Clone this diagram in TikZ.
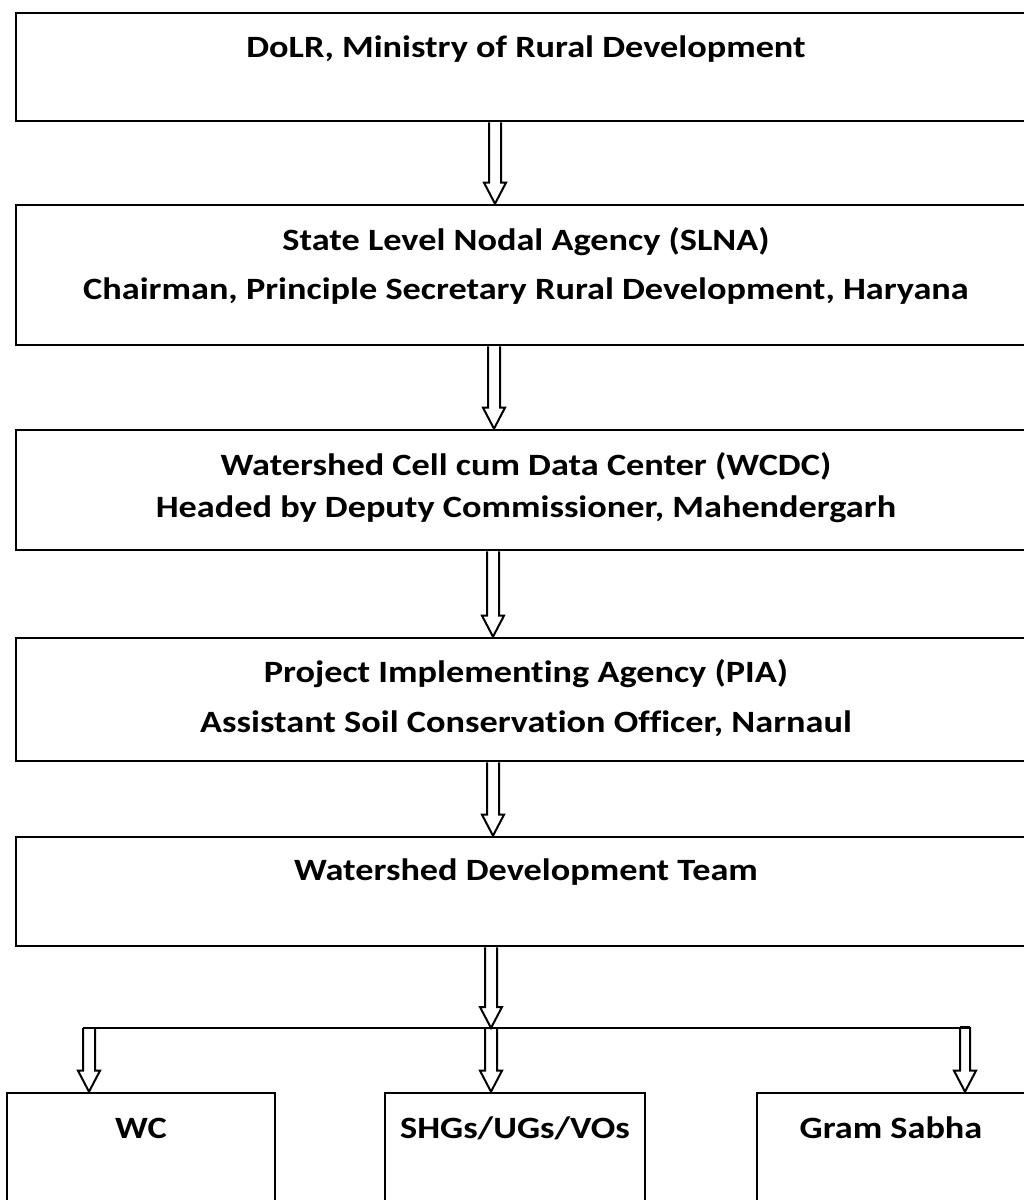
\documentclass[tikz,border=0pt]{standalone}
\usepackage{fontspec}
\setmainfont{Carlito}[FakeStretch=1.17, Ligatures={NoCommon}]
\usetikzlibrary{calc}
\tikzset{
  box/.style={draw=black, line width=2.6pt, rectangle, inner sep=0pt, fill=white},
  lbl/.style={font=\bfseries\fontsize{31}{36}\selectfont, anchor=base, inner sep=0pt, text=black},
  arrowline/.style={draw=black, line width=2pt, line join=miter},
}
\newcommand\harrow[2]{%
  \draw[arrowline] ($#1+(-6,0)$) -- ($#2+(-6,-21)$) -- ($#2+(-11,-21)$) -- #2
    -- ($#2+(11,-21)$) -- ($#2+(6,-21)$) -- ($#1+(6,0)$);}
\begin{document}
\begin{tikzpicture}[x=1pt,y=-1pt]
\useasboundingbox[fill=white] (0,0) rectangle (1024,1200);
% boxes
\node[box, minimum width=1020pt, minimum height=108pt] (b1) at (526,67) {};
\node[box, minimum width=1020pt, minimum height=140pt] (b2) at (526,275) {};
\node[box, minimum width=1020pt, minimum height=120pt] (b3) at (526,490) {};
\node[box, minimum width=1020pt, minimum height=123pt] (b4) at (526,699.5) {};
\node[box, minimum width=1020pt, minimum height=109pt] (b5) at (526,891.5) {};
\node[box, minimum width=268pt, minimum height=137pt] (wc) at (141,1161.5) {};
\node[box, minimum width=260pt, minimum height=137pt] (shg) at (515,1161.5) {};
\node[box, minimum width=268pt, minimum height=137pt] (gs) at (891,1161.5) {};
% texts
\node[lbl] (t1) at (526,57) {DoLR, Ministry of Rural Development};
\node[lbl] (t2a) at (526,250) {State Level Nodal Agency (SLNA)};
\node[lbl] (t2b) at (526,299) {Chairman, Principle Secretary Rural Development, Haryana};
\node[lbl] (t3a) at (526,475) {Watershed Cell cum Data Center (WCDC)};
\node[lbl] (t3b) at (526,517) {Headed by Deputy Commissioner, Mahendergarh};
\node[lbl] (t4a) at (526,682) {Project Implementing Agency (PIA)};
\node[lbl] (t4b) at (526,732) {Assistant Soil Conservation Officer, Narnaul};
\node[lbl] (t5) at (526,880) {Watershed Development Team};
\node[lbl] (twc) at (141,1138) {WC};
\node[lbl] (tshg) at (515,1138) {SHGs/UGs/VOs};
\node[lbl] (tgs) at (891,1138) {Gram Sabha};
% arrow end points
\coordinate (a1s) at ([xshift=-31pt]b1.south);
\coordinate (a1e) at ([xshift=-31pt]b2.north);
\coordinate (a2s) at ([xshift=-32pt]b2.south);
\coordinate (a2e) at ([xshift=-32pt]b3.north);
\coordinate (a3s) at ([xshift=-33pt]b3.south);
\coordinate (a3e) at ([xshift=-33pt]b4.north);
\coordinate (a4s) at ([xshift=-33pt]b4.south);
\coordinate (a4e) at ([xshift=-33pt]b5.north);
\coordinate (a5s) at ([xshift=-35pt]b5.south);
\coordinate (bus) at (491,1028);
\coordinate (busL) at (89,1028);
\coordinate (busR) at (965,1028);
\coordinate (wce) at ([xshift=-52pt]wc.north);
\coordinate (shge) at ([xshift=-24pt]shg.north);
\coordinate (gse) at ([xshift=74pt]gs.north);
\harrow{(a1s)}{(a1e)}
\harrow{(a2s)}{(a2e)}
\harrow{(a3s)}{(a3e)}
\harrow{(a4s)}{(a4e)}
\harrow{(a5s)}{(bus)}
\draw[arrowline] ($(busL)+(-6,0)$) -- ($(busR)+(5,0)$);
\harrow{(busL)}{(wce)}
\harrow{(bus)}{(shge)}
\draw[arrowline] ($(busR)+(-5,-1)$) -- ($(busR)+(5,-1)$);
\draw[arrowline] ($(busR)+(-5,-1)$) -- ($(gse)+(-5,-21)$) -- ($(gse)+(-11,-21)$) -- (gse)
    -- ($(gse)+(11,-21)$) -- ($(gse)+(5,-21)$) -- ($(busR)+(5,-1)$);
\end{tikzpicture}
\end{document}
